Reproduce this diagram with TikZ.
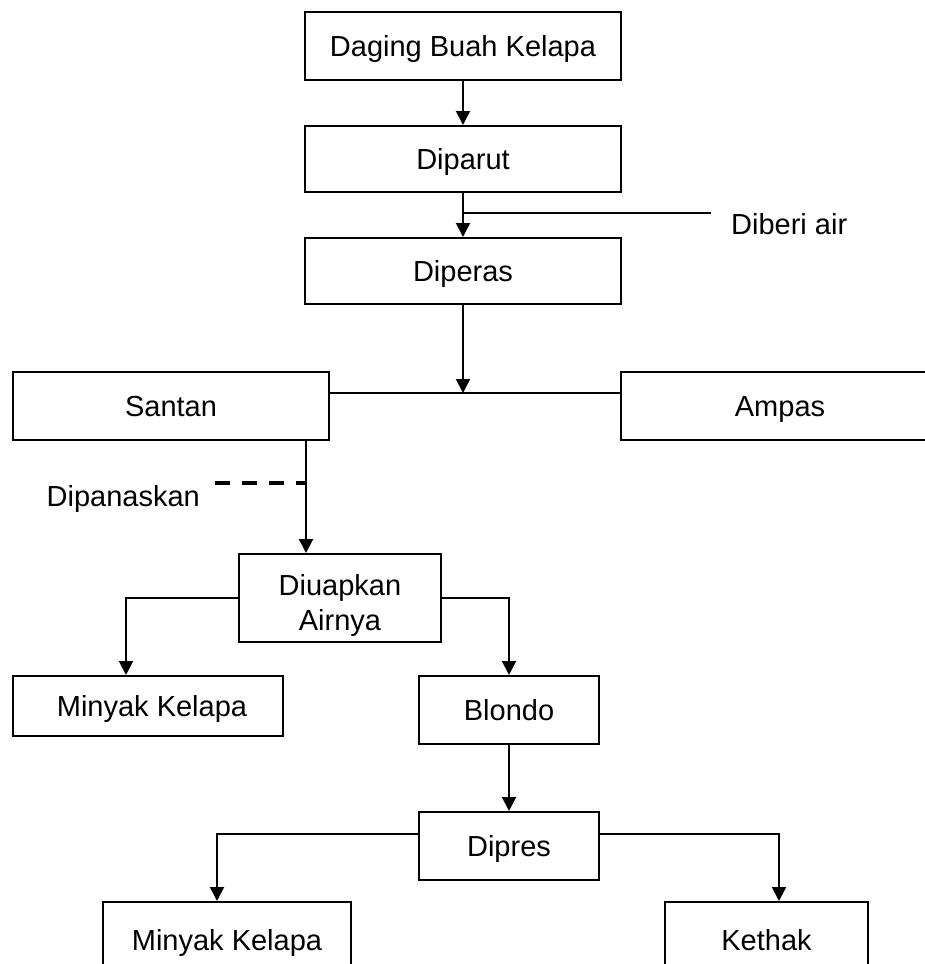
\documentclass[tikz,border=0pt]{standalone}
\usepackage{fontspec}
\setmainfont{Liberation Sans}
\usetikzlibrary{arrows.meta}
\begin{document}
\begin{tikzpicture}[x=1pt,y=-1pt,
  box/.style={draw,line width=2pt,inner sep=0pt,align=center,text height=20.8pt,text depth=0pt,font=\fontsize{29}{35}\selectfont},
  lbl/.style={inner sep=0pt,text height=20.8pt,text depth=0pt,font=\fontsize{29}{35}\selectfont},
  conn/.style={line width=2pt},
  arr/.style={conn,-{Triangle[length=14pt,width=14pt]}}]
\useasboundingbox (0,0) rectangle (925,964);
\clip (0,0) rectangle (925,964);
\node[box,minimum width=316pt,minimum height=68pt] (daging) at (463,46) {Daging Buah Kelapa};
\node[box,minimum width=316pt,minimum height=66pt] (diparut) at (463,159) {Diparut};
\node[box,minimum width=316pt,minimum height=66pt] (diperas) at (463,271) {Diperas};
\node[box,minimum width=316pt,minimum height=68pt] (santan) at (171,406) {Santan};
\node[box,minimum width=318pt,minimum height=68pt] (ampas) at (780,406) {Ampas};
\node[box,minimum width=202pt,minimum height=88pt,text height=64pt] (diuap) at (340,598) {Diuapkan\\Airnya};
\node[box,minimum width=270pt,minimum height=60pt] (minyak1) at (148,706) {\hspace*{8pt}Minyak Kelapa};
\node[box,minimum width=180pt,minimum height=68pt] (blondo) at (509,710) {Blondo};
\node[box,minimum width=180pt,minimum height=68pt] (dipres) at (509,846) {Dipres};
\node[box,minimum width=248pt,minimum height=76pt] (minyak2) at (227,940) {Minyak Kelapa};
\node[box,minimum width=203pt,minimum height=76pt] (kethak) at (766.5,940) {Kethak};
\node[lbl,anchor=west] (diberi) at (731,224) {Diberi air};
\node[lbl,anchor=east] (dipanas) at (200,496) {Dipanaskan};
% connectors
\draw[arr] (daging.south) -- (diparut.north);
\draw[arr] (diparut.south) -- (diperas.north);
\coordinate (air) at (711,213);
\draw[conn] (air) -- (air -| diparut.south);
\coordinate (j1) at (463,393);
\draw[arr] (diperas.south) -- (j1);
\draw[conn] (j1 -| santan.east) -- (j1 -| ampas.west);
\coordinate (s1) at ([xshift=135pt]santan.south);
\draw[arr] (s1) -- (s1 |- diuap.north);
\coordinate (dp) at (215,483);
\draw[line width=3.3pt,dash pattern=on 15pt off 12pt] (dp) -- (dp -| s1);
\draw[arr] (diuap.west) -| ([xshift=-22pt]minyak1.north);
\draw[arr] (diuap.east) -| (blondo.north);
\draw[arr] (blondo.south) -- (dipres.north);
\draw[arr] ([yshift=12pt]dipres.west) -| ([xshift=-10pt]minyak2.north);
\draw[arr] ([yshift=12pt]dipres.east) -| ([xshift=12.5pt]kethak.north);
\end{tikzpicture}
\end{document}
